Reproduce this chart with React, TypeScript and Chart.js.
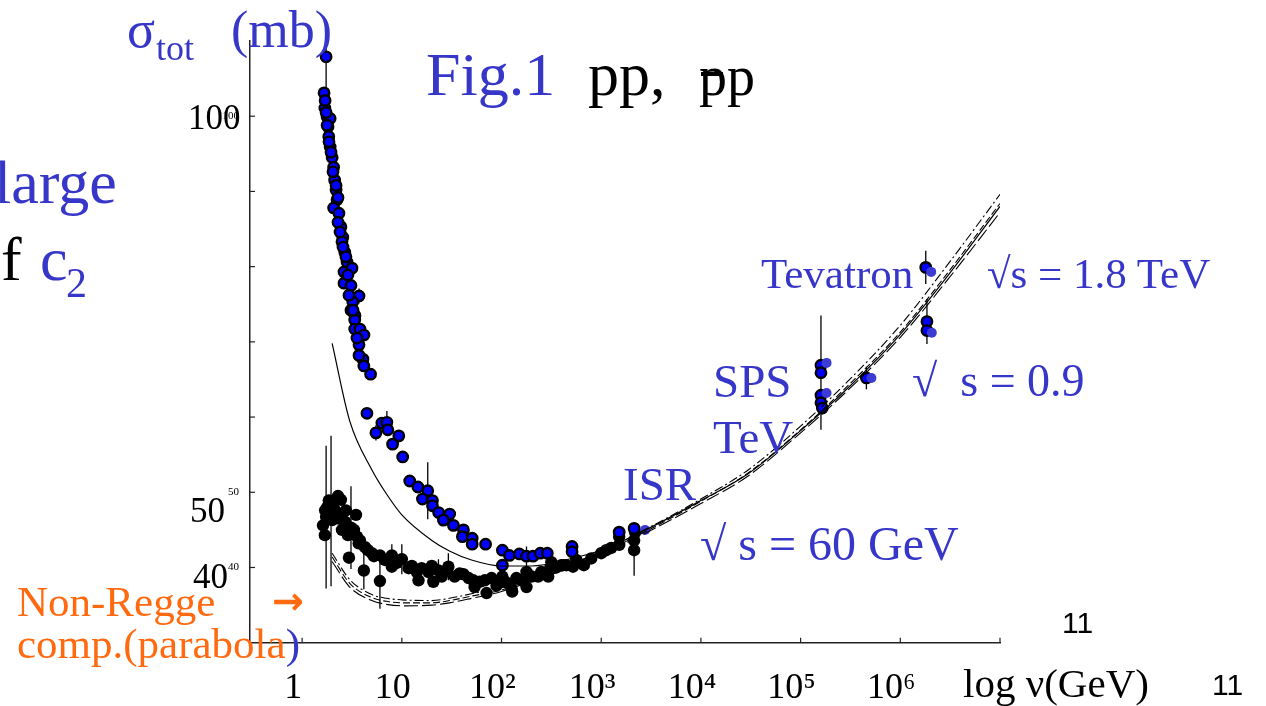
import React, { useEffect, useRef } from 'react';
import { Chart, registerables } from 'chart.js';

Chart.register(...registerables);

// ---- axis ticks ----
const xTickValues = [1, 10, 100, 1e3, 1e4, 1e5, 1e6, 1e7];
const xTickLabels = ['1', '10', '10²', '10³', '10⁴', '10⁵', '10⁶', ''];
const yTickValues = [40, 50, 60, 70, 80, 90, 100];
const yTickLabels = ['40', '50', '', '', '', '', '100'];

// ---- p̄p data (blue, black outline) ----
const pbarNu = [1.74, 1.66, 1.69, 1.78, 1.91, 1.82, 1.85, 1.91, 2.0, 2.07, 2.12, 2.19, 2.24, 2.07, 2.34, 2.45, 2.56, 2.51, 2.68, 2.82, 2.63, 3.16, 2.63, 3.09, 3.72, 3.22, 3.09, 3.39, 3.37, 3.37, 3.8, 4.17, 3.72, 4.07, 4.16, 4.86, 4.47, 5.5, 6.31, 7.08, 7.24, 9.33, 8.08, 10.2, 12.0, 14.5, 18.2, 16.1, 20.3, 20.3, 23.4, 30.2, 26.1, 32.9, 41.5, 40.5, 50.8, 50.8, 69.2, 102, 120, 151, 178, 207, 245, 288, 102, 510, 510, 1514, 2138, 1.6e5, 1.6e5, 1.6e5, 1.6e5, 1.65e5, 4.57e5, 1.8e6, 1.85e6, 1.85e6,
  1.7, 1.74, 1.78, 1.86, 1.95, 2.04, 2.19, 2.29, 2.29, 2.4, 2.57, 2.75, 2.88, 2.95, 3.24, 3.55, 3.72];
const pbarSigma = [107.9, 103.1, 101.1, 99.9, 99.7, 98.6, 97.3, 95.9, 94.5, 93.2, 91.5, 90.2, 88.9, 87.8, 87.1, 85.3, 83.9, 83.3, 81.9, 80.6, 79.3, 79.8, 77.8, 77.5, 76.1, 75.3, 74.2, 73.5, 72.9, 71.7, 71.7, 70.9, 69.6, 67.7, 66.8, 65.7, 60.5, 57.9, 59.2, 59.3, 58.3, 57.5, 56.4, 54.7, 51.5, 50.7, 50.2, 49.1, 48.9, 48.2, 47.3, 47.1, 46.3, 45.6, 45.0, 44.1, 43.9, 43.1, 43.1, 42.3, 41.6, 41.8, 41.5, 41.5, 41.9, 41.9, 40.3, 42.8, 42.1, 44.7, 45.2, 66.9, 65.9, 62.9, 61.9, 61.2, 65.2, 79.9, 72.7, 71.5,
  102.1, 100.5, 98.8, 96.6, 95.2, 92.6, 90.8, 89.2, 85.9, 84.6, 82.6, 81.3, 78.9, 76.2, 74.2, 70.5, 68.2];
const pbarErr = [4.8, 0, 0, 0, 0, 0, 0, 0, 0, 0, 0, 0, 0, 0, 0, 0, 0, 0, 0, 0, 0, 0, 0, 0, 1.0, 0, 0, 0, 0, 2.0, 0, 0, 0, 0, 0, 0, 0, 1.0, 0, 1.5, 0, 0, 0, 0, 0, 0, 3.8, 0, 0, 0, 0, 0, 0, 0, 0, 0, 0, 0, 0, 0, 0, 0, 1.3, 0, 0, 0, 0, 0, 0, 0, 0, 0, 7.6, 0, 0, 0, 1.5, 2.2, 3.0, 0,
  0, 0, 0, 0, 0, 0, 0, 0, 0, 0, 0, 0, 0, 0, 0, 0, 0];

// ---- p̄p data, second set (plain blue, slightly shifted) ----
const pbar2Nu = [2754, 1.82e5, 1.82e5, 5.13e5, 2.04e6, 2.07e6];
const pbar2Sigma = [45.0, 67.2, 63.2, 65.2, 79.3, 71.2];

// ---- pp data (black) ----
const ppNu = [1.69, 1.74, 1.78, 1.85, 2.29, 2.0, 1.95, 2.33, 2.69, 3.09, 3.47, 3.55, 2.95, 4.16, 3.69, 4.27, 5.01, 6.03, 6.03, 7.94, 10, 7.94, 11.7, 14.1, 18.5, 23.3, 29.3, 25.1, 33.9, 41.5, 52.1, 53.7, 20.7, 14.7, 70.8, 102, 128, 178, 294, 398, 670, 68, 126, 158, 178, 233, 302, 316, 414, 521, 1122, 1514, 1514, 2138, 2138, 2188, 1.62, 1.7, 1.86, 2.04, 2.14, 2.45, 2.75, 2.51, 2.88, 3.31, 3.8, 4.57, 5.25, 6.76, 8.9, 12.6, 15.8, 20, 28.2, 38, 46.8, 60.3, 79.4, 89, 112, 141, 200, 251, 355, 447, 562, 794, 1000, 1259];
const ppSigma = [44.3, 46.7, 48.0, 48.9, 49.5, 46.3, 47.5, 46.5, 46.1, 45.3, 47.0, 44.1, 41.3, 39.6, 43.2, 42.7, 41.9, 38.2, 41.6, 41.6, 41.1, 40.1, 39.9, 39.4, 39.4, 39.6, 40.1, 38.8, 38.8, 39.1, 38.3, 37.4, 38.1, 38.3, 36.6, 38.8, 36.8, 37.4, 38.8, 40.3, 40.3, 38.3, 37.2, 38.3, 39.4, 38.8, 39.7, 40.7, 40.3, 40.1, 42.3, 43.0, 44.1, 43.6, 42.3, 44.7, 45.6, 47.6, 48.3, 48.3, 47.6, 49.0, 47.6, 45.0, 44.3, 45.0, 43.6, 42.3, 41.5, 41.0, 40.6, 40.2, 39.9, 40.2, 39.6, 39.2, 38.6, 38.1, 38.6, 37.6, 38.0, 38.6, 38.8, 39.4, 40.0, 40.3, 41.0, 41.2, 41.9, 42.6];
const ppErr = [0, 9.5, 0, 0, 0, 0, 10, 0, 0, 5.5, 0, 0, 0, 2.5, 0, 0, 0, 3.7, 0, 1.5, 2.0, 0, 0, 0, 1.5, 1.5, 1.8, 0, 0, 0, 0, 0, 0, 0, 0, 0, 0, 0, 0, 0, 0, 0, 0, 0, 0, 0, 0, 0, 0, 0, 0, 0, 0, 0, 3.4, 0, 0, 0, 0, 0, 0, 0, 0, 0, 0, 0, 0, 0, 0, 0, 0, 0, 0, 0, 0, 0, 0, 0, 0, 0, 0, 0, 0, 0, 0, 0, 0, 0, 0, 0];

// ---- fitted curves ----
const curveNu = [2, 3, 5, 7, 10, 20, 30, 50, 100, 200, 500, 1e3, 3e3, 1e4, 3e4, 1e5, 3e5, 1e6, 3e6, 1e7];
const fitSolid = [69.8, 59.5, 53.0, 49.8, 47.0, 43.6, 42.2, 41.0, 40.2, 40.2, 41.2, 42.3, 45.2, 48.9, 52.5, 58.2, 63.9, 71.0, 78.8, 88.0];
const fitDashA = [41.4, 37.9, 36.0, 35.5, 35.3, 35.3, 35.6, 36.2, 37.0, 38.4, 40.2, 41.9, 45.0, 48.8, 52.6, 58.3, 64.2, 71.3, 79.2, 88.4];
const fitDashB = [41.9, 38.4, 36.4, 35.9, 35.7, 35.6, 35.9, 36.5, 37.3, 38.7, 40.5, 42.1, 45.3, 49.1, 53.0, 58.8, 64.8, 72.2, 80.3, 89.6];
const fitDashC = [40.8, 37.4, 35.6, 35.1, 34.9, 35.0, 35.3, 35.9, 36.8, 38.2, 40.0, 41.7, 44.8, 48.5, 52.2, 57.9, 63.6, 70.6, 78.3, 87.2];

const SERIF = "'Liberation Serif', 'Times New Roman', serif";
const SANS = "'Liberation Sans', Arial, sans-serif";
const BLUE_TEXT = '#3636c8';
const ORANGE = '#ff6a10';

const pts = (xs: number[], ys: number[]) => xs.map((x, i) => ({ x, y: ys[i] }));

const errorBarPlugin = {
  id: 'errorBars',
  beforeDatasetsDraw(chart: any) {
    const { ctx, chartArea, scales } = chart;
    const xs = scales.x;
    const ys = scales.y;
    ctx.save();
    ctx.beginPath();
    ctx.rect(chartArea.left, chartArea.top, chartArea.right - chartArea.left, chartArea.bottom - chartArea.top);
    ctx.clip();
    ctx.strokeStyle = '#000';
    ctx.lineWidth = 1.3;
    chart.data.datasets.forEach((ds: any) => {
      if (!ds.errors) return;
      ds.data.forEach((p: any, i: number) => {
        const e = ds.errors[i];
        if (!e) return;
        const px = xs.getPixelForValue(p.x);
        ctx.beginPath();
        ctx.moveTo(px, ys.getPixelForValue(p.y - e));
        ctx.lineTo(px, ys.getPixelForValue(p.y + e));
        ctx.stroke();
      });
    });
    ctx.restore();
  },
};

const innerTicksPlugin = {
  id: 'innerTicks',
  afterDraw(chart: any) {
    const { ctx, chartArea, scales } = chart;
    ctx.save();
    ctx.strokeStyle = '#222';
    ctx.lineWidth = 1.2;
    xTickValues.forEach((v) => {
      const px = scales.x.getPixelForValue(v);
      ctx.beginPath();
      ctx.moveTo(px, chartArea.bottom);
      ctx.lineTo(px, chartArea.bottom - 5);
      ctx.stroke();
    });
    yTickValues.forEach((v) => {
      const py = scales.y.getPixelForValue(v);
      ctx.beginPath();
      ctx.moveTo(chartArea.left, py);
      ctx.lineTo(chartArea.left + 5, py);
      ctx.stroke();
    });
    ctx.restore();
  },
};

function T(props: { x: number; base: number; size: number; color?: string; sans?: boolean; family?: string; children: any; weight?: string }) {
  const k = props.sans || props.family ? 0.8465 : 0.8375;
  return (
    <div
      style={{
        position: 'absolute',
        left: props.x,
        top: props.base - k * props.size,
        fontSize: props.size,
        lineHeight: props.size + 'px',
        fontFamily: props.family || (props.sans ? SANS : SERIF),
        color: props.color || '#000',
        whiteSpace: 'pre',
        fontWeight: (props.weight as any) || 'normal',
        pointerEvents: 'none',
      }}
    >
      {props.children}
    </div>
  );
}

export default function App() {
  const canvasRef = useRef<HTMLCanvasElement | null>(null);

  useEffect(() => {
    if (!canvasRef.current) return;
    const curveStyle = (data: number[], dash: number[], width: number) => ({
      data: pts(curveNu, data),
      showLine: true,
      borderColor: '#000',
      borderWidth: width,
      borderDash: dash,
      pointRadius: 0,
      cubicInterpolationMode: 'monotone' as const,
      fill: false,
      order: 0,
    });
    const chart = new Chart(canvasRef.current, {
      type: 'scatter',
      data: {
        datasets: [
          curveStyle(fitSolid, [], 1.2),
          curveStyle(fitDashA, [7, 3], 1.1),
          curveStyle(fitDashB, [9, 3, 2, 3], 1.1),
          curveStyle(fitDashC, [14, 4], 1.1),
          {
            data: pts(pbar2Nu, pbar2Sigma),
            backgroundColor: '#3c3cd4',
            borderWidth: 0,
            pointRadius: 5,
            order: 1,
          } as any,
          {
            data: pts(pbarNu, pbarSigma),
            errors: pbarErr,
            backgroundColor: '#0000ff',
            borderColor: '#000',
            borderWidth: 2.4,
            pointRadius: 5.2,
            order: 2,
          } as any,
          {
            data: pts(ppNu, ppSigma),
            errors: ppErr,
            backgroundColor: '#000',
            borderColor: '#000',
            borderWidth: 0,
            pointRadius: 6.2,
            order: 3,
          } as any,
        ],
      },
      options: {
        animation: false,
        responsive: false,
        devicePixelRatio: 1,
        events: [],
        layout: { padding: { left: 210, right: 266, top: 41, bottom: 0 } },
        plugins: { legend: { display: false }, tooltip: { enabled: false }, title: { display: false } },
        scales: {
          x: {
            type: 'logarithmic',
            min: Math.pow(10, -0.5),
            max: 1e7,
            grid: { display: false, drawTicks: false },
            border: { display: true, color: '#222', width: 1.5 },
            afterBuildTicks: (scale: any) => {
              scale.ticks = xTickValues.map((v) => ({ value: v }));
            },
            afterFit: (scale: any) => {
              scale.height = 63.3;
            },
            ticks: {
              autoSkip: false,
              maxRotation: 0,
              minRotation: 0,
              padding: 24,
              labelOffset: -9,
              color: '#000',
              font: { family: SERIF, size: 36 },
              callback: (value: any) => {
                const i = xTickValues.indexOf(Number(value));
                return i >= 0 ? xTickLabels[i] : '';
              },
            },
          },
          y: {
            type: 'linear',
            min: 30,
            max: 110,
            grid: { display: false, drawTicks: false },
            border: { display: true, color: '#222', width: 1.5 },
            afterBuildTicks: (scale: any) => {
              scale.ticks = yTickValues.map((v) => ({ value: v }));
            },
            afterFit: (scale: any) => {
              scale.width = 40;
            },
            ticks: {
              autoSkip: false,
              padding: 11,
              color: '#000',
              font: { family: SERIF, size: 11 },
              callback: (value: any) => {
                const i = yTickValues.indexOf(Number(value));
                return i >= 0 ? yTickLabels[i] : '';
              },
            },
          },
        },
      } as any,
      plugins: [errorBarPlugin, innerTicksPlugin],
    });
    return () => chart.destroy();
  }, []);

  return (
    <div style={{ position: 'absolute', left: 0, top: 0, width: 1266, height: 706, overflow: 'hidden', background: '#fff' }}>
      <canvas ref={canvasRef} width={1266} height={706} style={{ position: 'absolute', left: 0, top: 0, width: 1266, height: 706 }} />

      {/* y-axis title */}
      <T x={127} base={48} size={52} color={BLUE_TEXT}>σ</T>
      <T x={156} base={60} size={36} color={BLUE_TEXT}>tot</T>
      <T x={231} base={48} size={52} color={BLUE_TEXT}>(mb)</T>

      {/* title */}
      <T x={426} base={95} size={62} color={BLUE_TEXT}>Fig.1</T>
      <T x={588} base={95} size={62}>pp,</T>
      <T x={699} base={95} size={56}>pp</T>
      <div style={{ position: 'absolute', left: 701, top: 72, width: 22, height: 4, background: '#000' }} />

      {/* cut-off slide text on the left */}
      <T x={-6} base={203} size={62} color={BLUE_TEXT}>large</T>
      <T x={1} base={280} size={62}>f</T>
      <T x={40} base={280} size={62} color={BLUE_TEXT}>c</T>
      <T x={66} base={297} size={42} color={BLUE_TEXT}>2</T>

      {/* big y labels */}
      <T x={188} base={129} size={35}>100</T>
      <T x={190} base={522} size={35}>50</T>
      <T x={193} base={588} size={35}>40</T>

      {/* annotations */}
      <T x={761} base={288} size={43} color={BLUE_TEXT}>Tevatron</T>
      <T x={987} base={288} size={43} color={BLUE_TEXT}>√s = 1.8 TeV</T>
      <T x={713} base={397} size={47} color={BLUE_TEXT}>SPS</T>
      <T x={713} base={453} size={47} color={BLUE_TEXT}>TeV</T>
      <T x={912} base={397} size={46} color={BLUE_TEXT}>{'√  s = 0.9'}</T>
      <T x={623} base={500} size={47} color={BLUE_TEXT}>ISR</T>
      <T x={700} base={560} size={48} color={BLUE_TEXT}>√ s = 60 GeV</T>

      <T x={17} base={616} size={43} color={ORANGE}>Non-Regge</T>
      <T x={272} base={614} size={38} color={ORANGE} weight="bold" family="'DejaVu Sans', sans-serif">→</T>
      <T x={17} base={658} size={43} color={ORANGE}>
        comp.(parabola<span style={{ color: BLUE_TEXT }}>)</span>
      </T>

      {/* x axis title and stray numbers */}
      <T x={963} base={697} size={41}>log ν(GeV)</T>
      <T x={1062} base={633} size={30} sans>11</T>
      <T x={1212} base={695} size={30} sans>11</T>
    </div>
  );
}
